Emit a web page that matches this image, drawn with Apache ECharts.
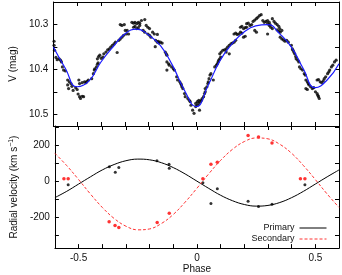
<!DOCTYPE html>
<html>
<head>
<meta charset="utf-8">
<script src="https://cdn.jsdelivr.net/npm/echarts@6/dist/echarts.min.js"></script>
<style>
html,body{margin:0;padding:0;background:#fff;}
#chart{width:342px;height:275px;}
</style>
</head>
<body>
<div id="chart"></div>
<script>
// ---- Data ----
const xTickValues = [-0.6,-0.5,-0.4,-0.3,-0.2,-0.1,0,0.1,0.2,0.3,0.4,0.5,0.6];
const xLabelValues = [-0.5,0,0.5];
const magTickValues = [10.3,10.35,10.4,10.45,10.5];
const magLabelValues = [10.3,10.4,10.5];
const rvTickValues = [-300,-200,-100,0,100,200,300];
const rvLabelValues = [-200,0,200];

// Light-curve observations [phase, V mag]
const lightCurvePoints = [
[-0.597,10.337],[-0.597,10.346],[-0.595,10.357],[-0.589,10.373],[-0.584,10.378],[-0.576,10.376],[-0.570,10.379],[-0.566,10.383],
[-0.562,10.394],[-0.557,10.401],[-0.549,10.403],[-0.540,10.423],[-0.533,10.427],[-0.526,10.431],[-0.540,10.434],[-0.536,10.442],
[-0.522,10.437],[-0.517,10.446],[-0.506,10.440],[-0.500,10.444],[-0.493,10.423],[-0.490,10.431],[-0.496,10.454],[-0.490,10.460],
[-0.486,10.464],[-0.479,10.459],[-0.473,10.460],[-0.479,10.429],[-0.469,10.427],[-0.463,10.429],[-0.459,10.426],[-0.453,10.423],
[-0.439,10.420],[-0.432,10.409],[-0.428,10.401],[-0.426,10.398],[-0.419,10.394],[-0.415,10.388],[-0.412,10.385],[-0.415,10.376],
[-0.410,10.371],[-0.405,10.368],[-0.399,10.375],[-0.392,10.372],[-0.388,10.365],[-0.379,10.361],[-0.372,10.356],[-0.365,10.354],
[-0.359,10.350],[-0.352,10.346],[-0.345,10.343],[-0.339,10.339],[-0.332,10.362],[-0.325,10.335],[-0.319,10.332],[-0.312,10.328],
[-0.305,10.324],[-0.319,10.300],[-0.312,10.302],[-0.302,10.300],[-0.298,10.313],[-0.294,10.321],[-0.290,10.313],[-0.284,10.321],
[-0.270,10.295],[-0.263,10.297],[-0.257,10.295],[-0.250,10.298],[-0.243,10.295],[-0.237,10.297],[-0.230,10.291],[-0.263,10.306],
[-0.257,10.304],[-0.250,10.309],[-0.243,10.307],[-0.237,10.302],[-0.216,10.289],[-0.223,10.313],[-0.216,10.317],[-0.210,10.302],
[-0.203,10.306],[-0.196,10.309],[-0.203,10.321],[-0.196,10.324],[-0.190,10.328],[-0.183,10.317],[-0.176,10.321],[-0.170,10.335],
[-0.163,10.339],[-0.159,10.337],[-0.156,10.341],[-0.150,10.339],[-0.143,10.341],[-0.172,10.349],[-0.163,10.322],[-0.130,10.361],
[-0.126,10.365],[-0.123,10.368],[-0.123,10.383],[-0.116,10.387],[-0.113,10.390],[-0.123,10.401],[-0.103,10.394],[-0.096,10.398],
[-0.092,10.401],[-0.082,10.416],[-0.078,10.423],[-0.069,10.427],[-0.065,10.431],[-0.062,10.434],[-0.060,10.438],[-0.056,10.442],
[-0.049,10.453],[-0.046,10.460],[-0.035,10.464],[-0.029,10.468],[-0.025,10.471],[-0.022,10.479],[-0.015,10.490],[-0.009,10.497],
[-0.002,10.475],[0.005,10.471],[0.011,10.468],[-0.002,10.482],[0.005,10.479],[0.011,10.475],[0.018,10.471],[0.022,10.468],
[0.014,10.490],[0.025,10.464],[0.031,10.460],[0.035,10.453],[0.038,10.449],[0.038,10.442],[0.045,10.438],[0.049,10.431],
[0.051,10.427],[0.054,10.420],[0.058,10.412],[0.062,10.409],[0.072,10.423],[0.078,10.394],[0.085,10.390],[0.089,10.387],
[0.092,10.383],[0.095,10.379],[0.099,10.376],[0.103,10.372],[0.099,10.365],[0.105,10.361],[0.112,10.357],[0.119,10.356],
[0.126,10.354],[0.132,10.350],[0.139,10.346],[0.146,10.343],[0.139,10.365],[0.126,10.361],[0.152,10.341],[0.159,10.339],
[0.166,10.335],[0.159,10.321],[0.166,10.319],[0.172,10.322],[0.179,10.321],[0.186,10.317],[0.192,10.319],[0.186,10.306],
[0.192,10.304],[0.199,10.309],[0.206,10.307],[0.212,10.306],[0.199,10.328],[0.206,10.326],[0.212,10.298],[0.219,10.297],
[0.226,10.302],[0.233,10.300],[0.239,10.293],[0.246,10.290],[0.253,10.287],[0.259,10.284],[0.266,10.280],[0.273,10.278],
[0.246,10.313],[0.253,10.317],[0.280,10.291],[0.286,10.295],[0.293,10.293],[0.300,10.298],[0.307,10.302],[0.313,10.306],
[0.320,10.309],[0.300,10.291],[0.307,10.295],[0.310,10.300],[0.300,10.321],[0.320,10.287],[0.327,10.293],[0.333,10.297],
[0.340,10.300],[0.347,10.304],[0.351,10.309],[0.353,10.317],[0.360,10.313],[0.340,10.312],[0.347,10.315],[0.353,10.328],
[0.360,10.332],[0.367,10.334],[0.373,10.337],[0.380,10.335],[0.387,10.339],[0.400,10.346],[0.404,10.354],[0.407,10.357],
[0.410,10.361],[0.414,10.365],[0.418,10.371],[0.420,10.376],[0.427,10.379],[0.431,10.383],[0.434,10.394],[0.440,10.398],
[0.447,10.401],[0.454,10.409],[0.458,10.412],[0.461,10.423],[0.467,10.427],[0.471,10.431],[0.474,10.434],[0.461,10.442],
[0.467,10.444],[0.481,10.438],[0.488,10.442],[0.494,10.440],[0.501,10.449],[0.508,10.453],[0.511,10.457],[0.514,10.460],
[0.517,10.464],[0.508,10.423],[0.514,10.422],[0.521,10.427],[0.528,10.429],[0.534,10.425],[0.538,10.420],[0.544,10.416],
[0.552,10.409],[0.557,10.405],[0.561,10.401],[0.568,10.394],[0.574,10.390],[0.581,10.383],[0.588,10.379]
];

// Model curves sampled along phase
const modelPhase = [-0.6,-0.55,-0.5,-0.45,-0.4,-0.35,-0.3,-0.25,-0.2,-0.15,-0.1,-0.05,0,0.05,0.1,0.15,0.2,0.25,0.3,0.35,0.4,0.45,0.5,0.55,0.6];
const lightModel = [10.350,10.397,10.438,10.425,10.383,10.350,10.321,10.310,10.323,10.347,10.390,10.445,10.482,10.435,10.380,10.343,10.317,10.303,10.300,10.320,10.350,10.398,10.440,10.423,10.387];
const primaryModel = [-91,-56,-16,24,62,92,113,122,118,102,75,40,0,-40,-78,-108,-129,-138,-134,-118,-91,-56,-16,24,62];
const secondaryModel = [154,86,9,-71,-145,-206,-249,-269,-264,-234,-184,-116,-39,41,115,176,219,239,234,204,154,86,9,-71,-145];

// Radial-velocity observations [phase, km/s]
const primaryRV = [[-0.544,-20],[-0.370,80],[-0.345,49],[-0.330,75],[-0.169,113],[-0.118,93],[-0.117,71],
  [0.025,-9],[0.059,-123],[0.086,-42],[0.216,-111],[0.260,-140],[0.317,-127],[0.456,-20]];
const secondaryRV = [[-0.562,13],[-0.544,13],[-0.371,-224],[-0.346,-245],[-0.330,-256],[-0.168,-229],[-0.117,-178],
  [0.025,13],[0.059,93],[0.086,104],[0.216,253],[0.260,244],[0.317,211],[0.437,13],[0.456,13]];

// ---- Chart ----
const FONT = 'Liberation Sans, Arial, Helvetica, sans-serif';
const TXT = '#111';
const pair = (xs, ys) => xs.map((x, i) => [x, ys[i]]);

function xAx(grid, pos, labels, extra) {
  return Object.assign({
    type: 'value', gridIndex: grid, position: pos, min: -0.6, max: 0.6,
    axisLine: {show: true, onZero: false, lineStyle: {color: '#000', width: 1}},
    axisTick: {show: true, inside: true, length: 4, customValues: xTickValues, lineStyle: {color: '#000'}},
    axisLabel: labels ? {show: true, customValues: xLabelValues, margin: 5, fontSize: 10, fontFamily: FONT, color: TXT} : {show: false},
    splitLine: {show: false}
  }, extra || {});
}
function yAx(grid, pos, min, max, ticks, labels, inverse, extra) {
  return Object.assign({
    type: 'value', gridIndex: grid, position: pos, min: min, max: max, inverse: inverse,
    axisLine: {show: true, onZero: false, lineStyle: {color: '#000', width: 1}},
    axisTick: {show: true, inside: true, length: 4, customValues: ticks, lineStyle: {color: '#000'}},
    axisLabel: labels ? {show: true, customValues: labels, margin: 5, fontSize: 10, fontFamily: FONT, color: TXT} : {show: false},
    splitLine: {show: false}
  }, extra || {});
}

const legendBase = {right: 15, align: 'right', itemWidth: 27, itemHeight: 10, padding: 0,
  itemStyle: {opacity: 0}, lineStyle: {width: 1}, textStyle: {fontSize: 9, fontFamily: FONT, color: TXT}};

const chart = echarts.init(document.getElementById('chart'), null, {renderer: 'canvas'});
chart.setOption({
  animation: false,
  backgroundColor: '#fff',
  grid: [
    {left: 41, top: 2, width: 298, height: 124},
    {left: 41, top: 126, width: 298, height: 123.5}
  ],
  legend: [
    Object.assign({data: ['Primary'], top: 223.5}, legendBase),
    Object.assign({data: ['Secondary'], top: 234.5}, legendBase)
  ],
  xAxis: [
    xAx(0, 'bottom', false),
    xAx(0, 'top', false),
    xAx(1, 'bottom', true, {name: 'Phase', nameLocation: 'middle', nameGap: 15,
      nameTextStyle: {fontSize: 10, fontFamily: FONT, color: TXT}}),
    xAx(1, 'top', false)
  ],
  yAxis: [
    yAx(0, 'left', 10.25, 10.525, magTickValues, magLabelValues, true, {name: 'V (mag)', nameLocation: 'middle', nameGap: 27,
      nameTextStyle: {fontSize: 10, fontFamily: FONT, color: TXT}}),
    yAx(0, 'right', 10.25, 10.525, magTickValues, null, true),
    yAx(1, 'left', -370, 305, rvTickValues, rvLabelValues, false, {
      name: '{n|Radial velocity (km s}{s|−1}{n|)}', nameLocation: 'middle', nameGap: 26,
      nameTextStyle: {fontSize: 10, fontFamily: FONT, color: TXT,
        rich: {n: {fontSize: 10, fontFamily: FONT, color: TXT, lineHeight: 12},
               s: {fontSize: 7, fontFamily: FONT, color: TXT, lineHeight: 12, verticalAlign: 'top', padding: [0, 0, 4, 0]}}}}),
    yAx(1, 'right', -370, 305, rvTickValues, null, false)
  ],
  series: [
    {type: 'scatter', name: 'V obs', xAxisIndex: 0, yAxisIndex: 0, data: lightCurvePoints,
     symbol: 'circle', symbolSize: 3.2, itemStyle: {color: '#000'}, silent: true},
    {type: 'line', name: 'V model', xAxisIndex: 0, yAxisIndex: 0, data: pair(modelPhase, lightModel),
     smooth: 0.5, showSymbol: false, symbol: 'none', lineStyle: {color: '#1a1aff', width: 1.2}, silent: true},
    {type: 'line', name: 'Primary', xAxisIndex: 2, yAxisIndex: 2, data: pair(modelPhase, primaryModel),
     smooth: 0.4, showSymbol: false, symbol: 'none', itemStyle: {color: '#000'}, lineStyle: {color: '#000', width: 1}, silent: true},
    {type: 'line', name: 'Secondary', xAxisIndex: 2, yAxisIndex: 2, data: pair(modelPhase, secondaryModel),
     smooth: 0.4, showSymbol: false, symbol: 'none', itemStyle: {color: '#ff3333'}, lineStyle: {color: '#ff3333', width: 1, type: [3, 2]}, silent: true},
    {type: 'scatter', name: 'Primary RV', xAxisIndex: 2, yAxisIndex: 2, data: primaryRV,
     symbol: 'circle', symbolSize: 3, itemStyle: {color: '#000'}, silent: true},
    {type: 'scatter', name: 'Secondary RV', xAxisIndex: 2, yAxisIndex: 2, data: secondaryRV,
     symbol: 'circle', symbolSize: 3.5, itemStyle: {color: '#ff0000'}, silent: true}
  ]
});
</script>
</body>
</html>
